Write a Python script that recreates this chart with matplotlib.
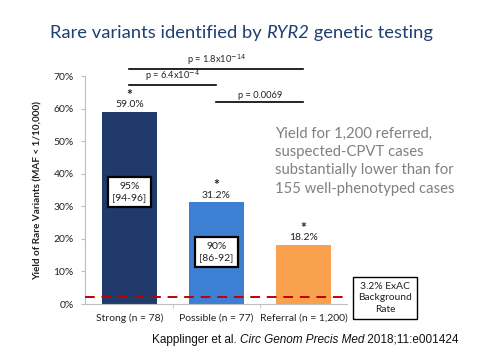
import numpy as np
import matplotlib.pyplot as plt

# данные
groups = ['Strong (n = 78)', 'Possible (n = 77)', 'Referral (n = 1,200)']
yields = [59.0, 31.2, 18.2]
inner_labels = ['95%\n[94-96]', '90%\n[86-92]', None]
inner_y = [34.4, 15.9, None]
bar_colors = ['#1f3a6b', '#3d7fd3', '#f9a14c']
background_rate = 2.0  # линия ExAC (как на картинке)
pvals = [('p = 1.8x10$^{-14}$', 0, 2, 72.2),
         ('p = 6.4x10$^{-4}$', 0, 1, 67.3),
         ('p = 0.0069', 1, 2, 62.1)]
yticks = [0, 10, 20, 30, 40, 50, 60, 70]

plt.rcParams['font.family'] = ['Lato', 'DejaVu Sans']

fig = plt.figure(figsize=(4.8, 3.6), dpi=100)
ax = fig.add_axes([85/480, 1 - 304/360, 262/480, 228/360])

x = np.arange(len(groups))
ax.bar(x, yields, width=0.63, color=bar_colors, zorder=2)
ax.set_xlim(-0.51, 2.5)
ax.set_ylim(0, 70)

# подписи значений и звёздочки
for xi, v in zip(x, yields):
    ax.annotate(f'{v:.1f}%', (xi, v), xytext=(0, 2), textcoords='offset points',
                ha='center', va='bottom', fontsize=7.5, color='#222222')
    ax.annotate('*', (xi, v), xytext=(0, 8), textcoords='offset points',
                ha='center', va='bottom', fontsize=10, fontweight='bold',
                color='#222222')

# внутренние рамки
for xi, lab, yy in zip(x, inner_labels, inner_y):
    if lab is None:
        continue
    ax.text(xi, yy, lab, ha='center', va='center', fontsize=7.5, color='#222222',
            linespacing=1.4,
            bbox=dict(boxstyle='square,pad=0.45', fc='white', ec='black', lw=1.6),
            zorder=4)

# линия фона
ax.axhline(background_rate, color='#c00000', ls=(0, (5, 3.5)), lw=1.4, zorder=3,
           clip_on=False)

# p-значения
for txt, a, b, yy in pvals:
    ax.plot([a, b], [yy, yy], color='black', lw=1.2, clip_on=False)
    ax.text((a + b) / 2, yy + 0.6, txt, ha='center', va='bottom', fontsize=6.7,
            color='#222222', clip_on=False)

# оси
for s in ['top', 'right']:
    ax.spines[s].set_visible(False)
ax.spines['left'].set_color('#bfbfbf')
ax.spines['bottom'].set_color('#bfbfbf')
ax.set_yticks(yticks)
ax.set_yticklabels([f'{t}%' for t in yticks], fontsize=7.5, color='#222222')
ax.set_xticks(x)
ax.set_xticklabels(groups, fontsize=7.5, color='#222222')
ax.tick_params(axis='y', length=3, color='#bfbfbf', pad=5)
ax.tick_params(axis='x', length=0, pad=7)
ax.set_xticks([0.5, 1.5], minor=True)
ax.tick_params(axis='x', which='minor', length=3, color='#bfbfbf')
ax.set_ylabel('Yield of Rare Variants (MAF < 1/10,000)', fontsize=7.2,
              fontweight='bold', color='#222222', labelpad=8)

# текст справа
fig.text(275/480, 1 - 127/360,
         'Yield for 1,200 referred,\nsuspected-CPVT cases\nsubstantially lower than for\n155 well-phenotyped cases',
         ha='left', va='top', fontsize=10.7, color='#808080', linespacing=1.38)

# рамка фона
fig.text(385/480, 1 - 298/360, '3.2% ExAC\nBackground\nRate', ha='center',
         va='center', fontsize=7.4, color='#222222', linespacing=1.4,
         bbox=dict(boxstyle='square,pad=0.5', fc='white', ec='black', lw=1.0))

# заголовок с курсивом
t1 = fig.text(50/480, 1 - 33/360, 'Rare variants identified by ', fontsize=13.2,
              color='#1f3f73', va='center')
t2 = ax.annotate('RYR2', xycoords=t1, xy=(1, 0), va='bottom', fontsize=13.2,
                 color='#1f3f73', style='italic', annotation_clip=False)
ax.annotate(' genetic testing', xycoords=t2, xy=(1, 0), va='bottom', fontsize=13.2,
            color='#1f3f73', annotation_clip=False)

# ссылка
c1 = fig.text(152/480, 1 - 340/360, 'Kapplinger et al. ', fontsize=8.5,
              family='Liberation Sans', color='#111111', va='center')
c2 = ax.annotate('Circ Genom Precis Med', xycoords=c1, xy=(1, 0), va='bottom',
                 fontsize=8.5, family='Liberation Sans', style='italic',
                 color='#111111', annotation_clip=False)
ax.annotate(' 2018;11:e001424', xycoords=c2, xy=(1, 0), va='bottom', fontsize=8.5,
            family='Liberation Sans', color='#111111', annotation_clip=False)

fig.savefig('out.png', dpi=100)
